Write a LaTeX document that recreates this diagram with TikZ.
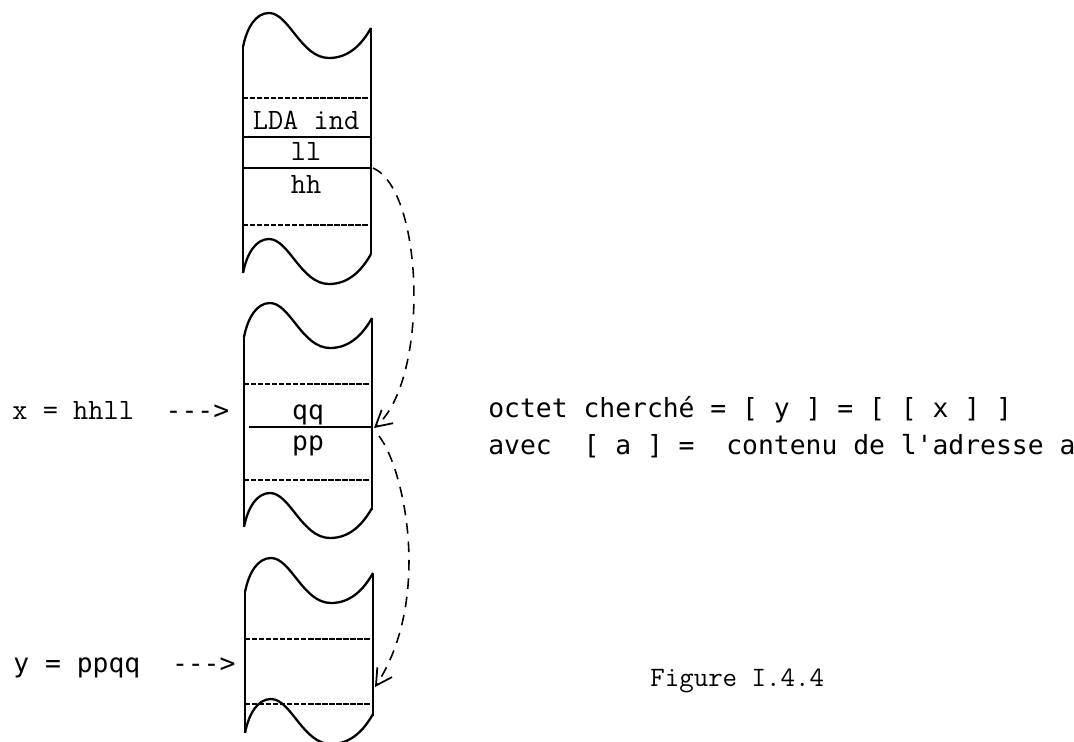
\documentclass[tikz,border=0pt]{standalone}
\usepackage{fontspec}
\setmonofont{DejaVu Sans Mono}
\newfontfamily\courier{Latin Modern Mono}
\usepackage{tikz}
\usetikzlibrary{arrows.meta}
\newcommand\cellfont{\courier\fontsize{16.8}{20}\selectfont}
\newcommand\notefont{\ttfamily\fontsize{15}{18}\selectfont}

\begin{document}
\begin{tikzpicture}[x=0.02cm, y=-0.02cm,
  tape/.style = {line width=1.3pt, line join=round},
  cutline/.style = {line width=0.7pt, dash pattern=on 3pt off 1pt},
  rowline/.style = {line width=0.7pt},
  ptr/.style = {-{Straight Barb[length=9pt,width=10pt,line width=1pt]}, line width=0.9pt,
    dash pattern=on 6pt off 4.5pt},
  cell/.style = {font=\cellfont, inner sep=0pt, anchor=mid},
  txt/.style = {font=\notefont, inner sep=0pt, anchor=mid west},
  wave/.pic = {\draw[tape] (0,0) .. controls (4,-20) and (13,-34) .. (26,-34)
    .. controls (46,-34) and (58,11) .. (86,11)
    .. controls (106,11) and (119,-3) .. (128,-19);}
]
  \useasboundingbox (0,0) rectangle (1074,741);
  \clip (0,0) rectangle (1074,741);

  % first piece of memory: the instruction
  \pic at (243,47) {wave};
  \pic at (243,273) {wave};
  \draw[tape] (243,47) -- (243,273);
  \draw[tape] (371,28) -- (371,254);
  \draw[cutline] (243,98)  -- (371,98);
  \draw[rowline] (243,137) -- (371,137);
  \draw[rowline] (243,168) -- (371,168);
  \draw[cutline] (243,225) -- (371,225);
  \node[cell] (lda) at (306,126) {LDA ind};
  \node[cell] (ll)  at (306,157) {ll};
  \node[cell] (hh)  at (306,190) {hh};

  % second piece: address x
  \pic at (244,337) {wave};
  \pic at (244,527) {wave};
  \draw[tape] (244,337) -- (244,527);
  \draw[tape] (372,318) -- (372,510);
  \draw[cutline] (244,384) -- (372,384);
  \draw[rowline] (249,427) -- (372,427);
  \draw[cutline] (244,480) -- (372,480);
  \node[cell, font=\notefont] (qq) at (308,416) {qq};
  \node[cell, font=\notefont] (pp) at (308,447) {pp};

  % third piece: address y
  \pic at (245,592) {wave};
  \pic at (245,733) {wave};
  \draw[tape] (245,592) -- (245,733);
  \draw[tape] (373,573) -- (373,716);
  \draw[cutline] (245,639) -- (373,639);
  \draw[cutline] (245,704) -- (373,704);

  \coordinate (from1) at (373,168);
  \coordinate (to1)   at (374,428);
  \coordinate (from2) at (379,436);
  \coordinate (to2)   at (375,687);
  \draw[ptr] (from1) .. controls (424,190) and (430,380) .. (to1);
  \draw[ptr] (from2) .. controls (405,470) and (432,600) .. (to2);

  \node[txt] (xlab) at (12,416) {{\cellfont x = hhll}~~--->};
  \node[txt] (ylab) at (13,669) {y = ppqq~~--->};
  \node[txt] (rule1) at (488,414) {octet cherché = [ y ] = [ [ x ] ]};
  \node[txt] (rule2) at (488,451) {avec~~[ a ] =~~contenu de l'adresse a};
  \node[txt, font=\courier\fontsize{16}{19}\selectfont] (caption) at (650,683) {Figure I.4.4};
\end{tikzpicture}
\end{document}
